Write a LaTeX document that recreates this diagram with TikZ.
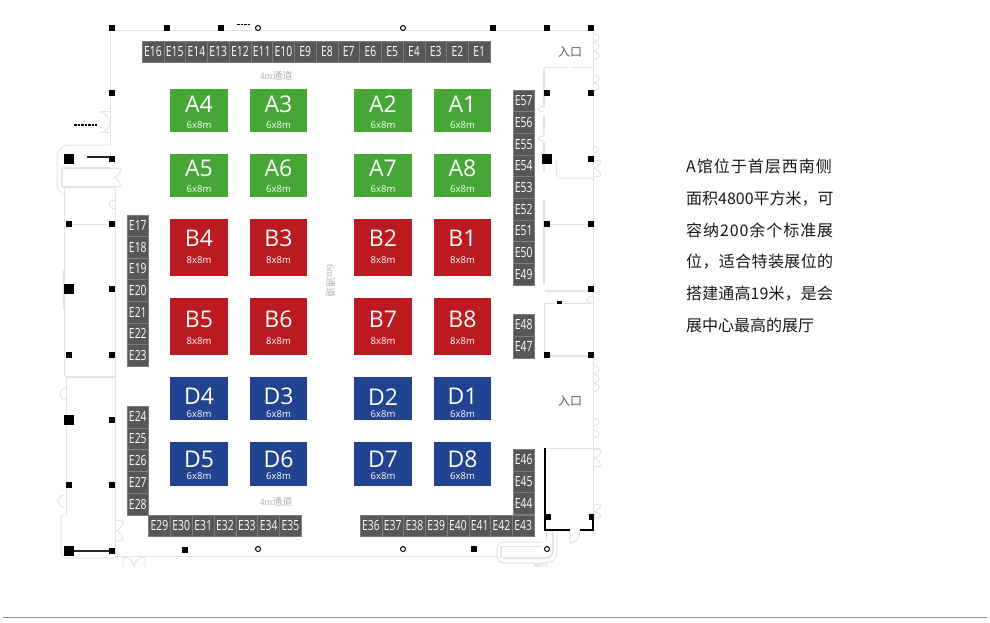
\documentclass[tikz,border=0pt]{standalone}
\usepackage{fontspec}
\setmainfont{Open Sans}
\newfontfamily\cjk{Noto Sans CJK SC}
\newfontfamily\narrow[FakeStretch=0.74]{Open Sans}
\newfontfamily\serifm{Liberation Serif}
\definecolor{boothgreen}{HTML}{46A737}
\definecolor{boothred}{HTML}{BB1A20}
\definecolor{boothblue}{HTML}{22438F}
\definecolor{cellgrey}{HTML}{575757}
\definecolor{wallgrey}{HTML}{E4E4E4}
\tikzset{
  cell/.style={fill=cellgrey,draw=white!22!cellgrey,line width=.5pt,text=white,inner sep=0pt,
    font=\narrow\fontsize{14}{14}\selectfont,minimum width=#1,anchor=center},
  wall/.style={draw=wallgrey,line width=1pt},
  thickwall/.style={draw=wallgrey,line width=2pt},
  darkwall/.style={draw=black!85,line width=1.6pt},
  pillar/.style={fill=black,draw=none,inner sep=0pt,minimum width=6.5pt,minimum height=6.5pt},
  bigpillar/.style={fill=black,draw=none,inner sep=0pt,minimum width=9.5pt,minimum height=9.5pt},
  ring/.style={circle,draw=black,line width=1pt,fill=white,inner sep=0pt,minimum size=5pt},
  booth/.style={draw=none,inner sep=0pt,minimum width=57.5pt},
  boothtitle/.style={text=white,inner sep=0pt,font=\fontsize{23}{23}\selectfont},
  boothsub/.style={text=white,inner sep=0pt,font=\fontsize{9.5}{10}\selectfont},
  aisle/.style={text=black!30,inner sep=0pt,font=\serifm\fontsize{10}{10}\selectfont},
  tinytext/.style={draw=black,line width=2pt,dash pattern=on 2.5pt off 1pt},
}
\newcommand{\boothat}[8]{% name, x, top, height, colour, sub, title shift, sub shift
  \node[booth,fill=#5,minimum height=#4pt,anchor=north] (#1) at (#2,#3) {};
  \node[boothtitle] (#1t) at ([yshift=#7pt]#1.center) {#1};
  \node[boothsub] (#1s) at ([yshift=#8pt]#1.center) {#6};
}
\newcommand{\doorright}[3]{\draw[wall] (#1,#2) .. controls (#1+8,#2+1) and (#1+8,#2+#3-1) .. (#1,#2+#3);}
\newcommand{\doorleft}[3]{\draw[wall] (#1,#2) .. controls (#1-8,#2+1) and (#1-8,#2+#3-1) .. (#1,#2+#3);}
\newcommand{\chevron}[3]{\draw[wall] (#1,#2) -- (#1+8,#2+1) .. controls (#1+7,#2+.5*#3-2) and (#1+3,#2+.5*#3-1) .. (#1+1,#2+.5*#3) .. controls (#1+3,#2+.5*#3+1) and (#1+7,#2+.5*#3+2) .. (#1+8,#2+#3-1) -- (#1,#2+#3);}
\begin{document}
\begin{tikzpicture}[x=1pt,y=-1pt]
\useasboundingbox (0,0) rectangle (990,623);
% walls
\draw[wall] (112,31) -- (593,31);
\draw[wall] (110,31) -- (110,145);
\draw[wall] (115,187) -- (115,556) -- (497,556);
\draw[wall] (110,145) -- (70,145) .. controls (62,145) and (57,150) .. (57,157) -- (57,188) -- (63,194);
\draw[thickwall] (62,168) -- (113,168);
\draw[thickwall] (62,187) -- (115,187);
\draw[thickwall] (62,168) -- (62,187);
\draw[wall] (64,187) -- (64,376);
\draw[thickwall] (64,310) -- (64,270);
\draw[thickwall] (66,377) -- (115,377);
\draw[wall] (66,377) -- (66,515);
\draw[wall] (69,224) -- (112,224);
\draw[wall] (66,515) -- (61,515) -- (61,550) .. controls (61,555) and (63,558) .. (68,558) -- (117,558) -- (117,545);
% right side
\draw[wall] (593,31) -- (593,530);
\draw[wall] (544,68) -- (568,68) (570,68) -- (593,68);
\draw[thickwall] (544,68) -- (544,108);
\draw[thickwall] (544,115) -- (544,135);
\draw[thickwall] (544,142) -- (544,172);
\draw[thickwall] (544,200) -- (544,285);
\draw[wall] (556,159) -- (557,178) -- (593,178);
\draw[wall] (547,224) -- (593,224);
\draw[thickwall] (545,291) -- (593,291);
\draw[wall] (544,303) -- (593,303);
\draw[wall] (544,303) -- (544,355);
\draw[thickwall] (547,356) -- (593,356);
\draw[wall] (545,448) -- (600,448);
% lift lobby, bottom right
\draw[thickwall] (503,558) -- (545,558) .. controls (550,558) and (553,554) .. (553,550) -- (553,532);
\draw[thickwall] (501,546) -- (501,558);
\draw[wall] (501,546) -- (542,546);
\draw[wall] (546,530) -- (546,542);
\draw[wall] (557,530) -- (557,552) .. controls (557,559) and (552,563) .. (545,563) -- (505,563) .. controls (500,563) and (497,560) .. (497,556) -- (497,549) .. controls (497,545) and (500,542) .. (505,542) -- (542,542);
\draw[wall] (570,530) -- (570,543) .. controls (576,543) and (580,537) .. (580,530);
% doors
\draw[wall] (100,112) -- (110,112) (100,133) -- (110,133);
\draw[wall] (100,112) .. controls (106,113) and (109,117) .. (110,122);
\draw[wall] (100,133) .. controls (106,132) and (109,128) .. (110,123);
\chevron{113}{168}{19}
\chevron{115}{520}{21}
\draw[wall] (123,567) -- (123,557) .. controls (130,557) and (133,561) .. (134,567);
\draw[wall] (145,567) -- (145,557) .. controls (138,557) and (135,561) .. (134,567);
\doorright{593}{33}{9}\doorright{593}{42}{9}\doorright{593}{51}{9}
\doorright{593}{75}{8}\doorright{593}{83}{8}
\doorright{593}{146}{7}\chevron{593}{160}{17}
\doorleft{593}{296}{8}
\doorright{593}{365}{9}\doorright{593}{374}{9}\doorright{593}{383}{9}
\doorright{593}{418}{8}\doorright{593}{430}{8}
\chevron{593}{449}{18}\chevron{593}{504}{14}
\doorleft{66}{388}{12}\doorleft{64}{495}{12}
\doorleft{115}{200}{9}\doorleft{544}{106}{6}\doorleft{544}{136}{5}
% pillars
\foreach \n/\x/\y in {a/112/28,b/167/28,c/221/28,d/493/28,e/547/28,f/591/28,g/112/93,h/112/159,i/112/224,j/69/224,k/112/289,l/69/355,m/112/355,n/112/420,o/69/485,p/112/485,q/112/551,r/185/550,s/474/549,t/547/93,u/591/93,v/591/159,w/547/224,x/591/224,y/591/289,z/547/355,aa/591/355}
  \node[pillar] (P\n) at (\x,\y) {};
\foreach \n/\x/\y in {a/69/159,b/69/289,c/69/420,d/69/551,e/547/159}
  \node[bigpillar] (Q\n) at (\x,\y) {};
\foreach \n/\x/\y in {a/258/28,b/403/28,c/258/549,d/403/549,e/547/549}
  \node[ring] (R\n) at (\x,\y) {};
\node[fill=black,inner sep=0pt,minimum width=5pt,minimum height=3pt] (Ps) at (559,302) {};
\coordinate (hallA) at (87,156.7);
\coordinate (hallB) at (110,156.7);
\draw[darkwall] (hallA) -- (hallB);
\draw[darkwall] (Qd) -- (Pq);
\draw[black,line width=2pt] (545,448) -- (545,530) -- (570,530);
\draw[black,line width=2pt] (580,530) -- (593,530) -- (593,515);
\node[fill=black,inner sep=0pt,minimum width=5pt,minimum height=6pt] (Pt) at (548,517) {};
\node[fill=black,inner sep=0pt,minimum width=5pt,minimum height=6pt] (Pu) at (591,517) {};
% tiny marks
\draw[tinytext] (74,125) -- (97,125);
\draw[tinytext,line width=1.6pt] (237,24.5) -- (250,24.5);
\node[text=black!30,inner sep=0pt,font=\fontsize{4.5}{5}\selectfont] (lift) at (541,566) {M01-1};
% booths
\foreach \n/\x in {A4/199,A3/278.5,A2/383,A1/462.5}{\boothat{\n}{\x}{89}{43}{boothgreen}{6x8m}{6.5}{-14}}
\foreach \n/\x in {A5/199,A6/278.5,A7/383,A8/462.5}{\boothat{\n}{\x}{153.5}{43.5}{boothgreen}{6x8m}{7}{-13.5}}
\foreach \n/\x in {B4/199,B3/278.5,B2/383,B1/462.5}{\boothat{\n}{\x}{219}{57}{boothred}{8x8m}{9.5}{-12.5}}
\foreach \n/\x in {B5/199,B6/278.5,B7/383,B8/462.5}{\boothat{\n}{\x}{298}{57}{boothred}{8x8m}{7.5}{-14.5}}
\foreach \n/\x in {D4/199,D3/278.5,D2/383,D1/462.5}{\boothat{\n}{\x}{377}{43}{boothblue}{6x8m}{2}{-15}}
\foreach \n/\x in {D5/199,D6/278.5,D7/383,D8/462.5}{\boothat{\n}{\x}{442}{43.5}{boothblue}{6x8m}{4.5}{-12.5}}
% top row E16..E1
\foreach \i [evaluate=\i as \xx using {142+(16-\i)*21.75+10.875}] in {1,...,16}
  \node[cell=21.75pt,minimum height=21.5pt] (E\i) at (\xx,51.8) {E\i};
% left column
\foreach \i [evaluate=\i as \yy using {215+(\i-17)*21.57+10.78}] in {17,...,23}
  \node[cell=21.5pt,minimum height=21.57pt] (E\i) at (137.8,\yy) {E\i};
\foreach \i [evaluate=\i as \yy using {406+(\i-24)*21.8+10.9}] in {24,...,28}
  \node[cell=21.5pt,minimum height=21.8pt] (E\i) at (137.8,\yy) {E\i};
% bottom row
\foreach \i [evaluate=\i as \xx using {148.5+(\i-29)*21.85+10.92}] in {29,...,35}
  \node[cell=21.85pt,minimum height=21.5pt] (E\i) at (\xx,525.5) {E\i};
\foreach \i [evaluate=\i as \xx using {360+(\i-36)*21.75+10.875}] in {36,...,43}
  \node[cell=21.75pt,minimum height=21.5pt] (E\i) at (\xx,525.5) {E\i};
% right column
\foreach \i [evaluate=\i as \yy using {449+(46-\i)*21.8+10.9}] in {44,45,46}
  \node[cell=21.5pt,minimum height=21.8pt] (E\i) at (523.7,\yy) {E\i};
\foreach \i [evaluate=\i as \yy using {314+(48-\i)*21.9+10.95}] in {47,48}
  \node[cell=21.5pt,minimum height=21.9pt] (E\i) at (523.7,\yy) {E\i};
\foreach \i [evaluate=\i as \yy using {90+(57-\i)*21.67+10.83}] in {49,...,57}
  \node[cell=21.5pt,minimum height=21.67pt] (E\i) at (523.7,\yy) {E\i};
% aisle labels
\node[aisle] (aisleT) at (276,76) {4m\cjk 通道};
\node[aisle] (aisleB) at (276,502) {4m\cjk 通道};
\node[aisle,rotate=-90] (aisleC) at (331,281) {6m\cjk 通道};
% entrances
\node[text=black!65,inner sep=0pt,font=\cjk\fontsize{12}{12}\selectfont] (entry1) at (570,52) {入口};
\node[text=black!65,inner sep=0pt,font=\cjk\fontsize{12}{12}\selectfont] (entry2) at (570,401) {入口};
% description
\node[anchor=north west,align=left,inner sep=0pt,text=black!90,font=\cjk\fontsize{16}{31.7}\selectfont] (desc) at (686,159)
  {{\addfontfeature{LetterSpace=6.2}A馆位于首层西南侧}\\
   {面积4800平方米，可}\\
   {\addfontfeature{LetterSpace=5.8}容纳200余个标准展}\\
   {\addfontfeature{LetterSpace=2.3}位，适合特装展位的}\\
   {\addfontfeature{LetterSpace=.8}搭建通高19米，是会}\\
   {展中心最高的展厅}};
% rule
\coordinate (ruleL) at (3,617);
\coordinate (ruleR) at (987,617);
\draw[black!45,line width=1pt] (ruleL) -- (ruleR);
\end{tikzpicture}
\end{document}
